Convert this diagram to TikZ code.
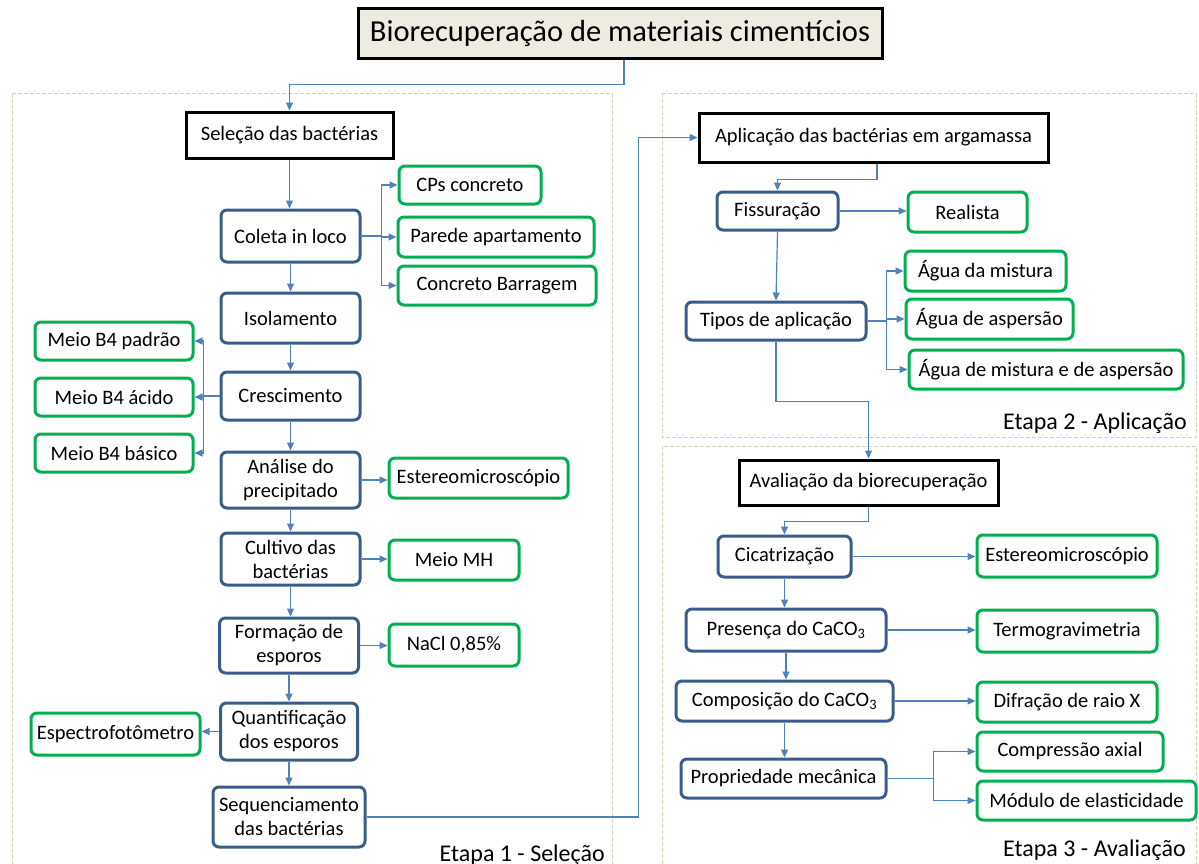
\documentclass[tikz,border=0pt]{standalone}
\usepackage{fontspec}
\setmainfont{Carlito}
\usetikzlibrary{arrows.meta,calc}
\definecolor{stepblue}{RGB}{56,93,138}
\definecolor{leafgreen}{RGB}{0,176,80}
\definecolor{linkblue}{RGB}{79,129,189}
\definecolor{titlefill}{RGB}{238,236,225}
\definecolor{framegray}{RGB}{214,211,184}
\tikzset{
  titlebox/.style={
    draw = black,
    line width = 3pt,
    fill = titlefill,
    inner sep = 0pt,
    font = \fontsize{30.5}{34}\selectfont
  },
  stagebox/.style={
    draw = black,
    line width = 3pt,
    fill = white,
    inner sep = 0pt
  },
  stepbox/.style={
    draw = stepblue,
    line width = 3pt,
    rounded corners = 6pt,
    inner sep = 0pt,
    align = center
  },
  leafbox/.style={
    draw = leafgreen,
    line width = 3pt,
    rounded corners = 6pt,
    inner sep = 0pt
  },
  link/.style={
    draw = linkblue,
    line width = 1.2pt,
    -{Triangle[length=8pt,width=7pt]}
  },
  frame/.style={
    draw = framegray,
    line width = 0.8pt,
    dash pattern = on 4pt off 2pt
  },
  stagelabel/.style={
    anchor = base east,
    inner sep = 0pt,
    font = \fontsize{24}{28}\selectfont
  },
  every picture/.style = {
    x = 1pt,
    y = -1pt,
    font = \fontsize{20.5}{24}\selectfont
  }
}

\begin{document}
\begin{tikzpicture}
    \useasboundingbox (0,0) rectangle (1199,863);
    \draw[frame] (12,93) rectangle (612,875);
    \draw[frame] (662,93) rectangle (1196,437);
    \draw[frame] (662,446) rectangle (1196,875);
    \node[stagelabel] (etapa1) at (605,861) {Etapa 1 - Seleção};
    \node[stagelabel] (etapa2) at (1187,429) {Etapa 2 - Aplicação};
    \node[stagelabel] (etapa3) at (1186,856) {Etapa 3 - Avaliação};

    \node[titlebox, minimum width=524, minimum height=50] (title) at (620,33) {Biorecuperação de materiais cimentícios};

    % etapa 1
    \node[stagebox, minimum width=207, minimum height=46] (sel) at (289.5,135) {Seleção das bactérias};
    \node[stepbox, minimum width=139, minimum height=52] (coleta) at (290.5,236) {Coleta in loco};
    \node[leafbox, minimum width=142, minimum height=38] (cps) at (470,185) {CPs concreto};
    \node[leafbox, minimum width=196, minimum height=40] (parede) at (496,237) {Parede apartamento};
    \node[leafbox, minimum width=198, minimum height=39] (barragem) at (497,285.5) {Concreto Barragem};
    \node[stepbox, minimum width=139, minimum height=50] (isol) at (290.5,318) {Isolamento};
    \node[leafbox, minimum width=158, minimum height=38] (padrao) at (114,341) {Meio B4 padrão};
    \node[leafbox, minimum width=158, minimum height=38] (acido) at (114,397) {Meio B4 ácido};
    \node[leafbox, minimum width=158, minimum height=38] (basico) at (114,453) {Meio B4 básico};
    \node[stepbox, minimum width=139, minimum height=48] (cresc) at (290.5,396) {Crescimento};
    \node[stepbox, minimum width=139, minimum height=56] (analise) at (290.5,480) {Análise do\\precipitado};
    \node[leafbox, minimum width=179, minimum height=40] (estereoA) at (478.5,478) {Estereomicroscópio};
    \node[stepbox, minimum width=139, minimum height=52] (cultivo) at (290.5,559) {Cultivo das\\bactérias};
    \node[leafbox, minimum width=130, minimum height=40] (mh) at (454,560) {Meio MH};
    \node[stepbox, minimum width=139, minimum height=55] (formacao) at (289,645.5) {Formação de\\esporos};
    \node[leafbox, minimum width=130, minimum height=42] (nacl) at (454,645) {NaCl 0,85\%};
    \node[stepbox, minimum width=137, minimum height=57] (quant) at (289,731.5) {Quantificação\\dos esporos};
    \node[leafbox, minimum width=169, minimum height=42] (espectro) at (115.5,734) {Espectrofotômetro};
    \node[stepbox, minimum width=152, minimum height=60] (seq) at (289,817) {Sequenciamento\\das bactérias};

    % etapa 2
    \node[stagebox, minimum width=349, minimum height=49] (aplic) at (873.5,137.5) {Aplicação das bactérias em argamassa};
    \node[stepbox, minimum width=121, minimum height=38] (fiss) at (777.5,211) {Fissuração};
    \node[leafbox, minimum width=119, minimum height=40] (realista) at (967.5,212) {Realista};
    \node[stepbox, minimum width=180, minimum height=38] (tipos) at (776,321) {Tipos de aplicação};
    \node[leafbox, minimum width=161, minimum height=40] (mistura) at (985.5,271) {Água da mistura};
    \node[leafbox, minimum width=167, minimum height=40] (aspersao) at (989.5,319) {Água de aspersão};
    \node[leafbox, minimum width=274, minimum height=39] (ambas) at (1046,369.5) {Água de mistura e de aspersão};

    % etapa 3
    \node[stagebox, minimum width=259, minimum height=45] (aval) at (868.5,482.5) {Avaliação da biorecuperação};
    \node[stepbox, minimum width=133, minimum height=41] (cicat) at (784.5,556.5) {Cicatrização};
    \node[leafbox, minimum width=180, minimum height=42] (estereoB) at (1067,556) {Estereomicroscópio};
    \node[stepbox, minimum width=200, minimum height=42] (presenca) at (786,630) {Presença do CaCO\textsubscript{3}};
    \node[leafbox, minimum width=180, minimum height=42] (termo) at (1067,631) {Termogravimetria};
    \node[stepbox, minimum width=217, minimum height=40] (compos) at (784.5,701) {Composição do CaCO\textsubscript{3}};
    \node[leafbox, minimum width=180, minimum height=40] (difr) at (1067,702) {Difração de raio X};
    \node[stepbox, minimum width=205, minimum height=39] (prop) at (783.5,778.5) {Propriedade mecânica};
    \node[leafbox, minimum width=186, minimum height=39] (compr) at (1070,751.5) {Compressão axial};
    \node[leafbox, minimum width=219, minimum height=39] (modulo) at (1086.5,800.5) {Módulo de elasticidade};

    % connectors
    \draw[link] ($(title.south)+(4,0)$) -- ++(0,25) -| (sel.north);
    \foreach \a/\b in {sel/coleta,coleta/isol,isol/cresc,cresc/analise,analise/cultivo,cultivo/formacao,formacao/quant,quant/seq,cicat/presenca,presenca/compos,compos/prop}{
        \draw[link] (\a.south) -- (\a.south |- \b.north);
    }
    \foreach \t in {cps,parede,barragem}{
        \draw[link] (coleta.east) -- ++(20,0) |- (\t.west);
    }
    \foreach \t in {padrao,acido,basico}{
        \draw[link] (cresc.west) -- ++(-16,0) |- (\t.east);
    }
    \foreach \a/\b in {analise/estereoA,cultivo/mh,formacao/nacl,fiss/realista,cicat/estereoB,presenca/termo,compos/difr}{
        \draw[link] (\a.east) -- (\a.east -| \b.west);
    }
    \draw[link] (quant.west) -- (quant.west -| espectro.east);
    \draw[link] (seq.east) -- ($(seq.east -| aplic.west)+(-59,0)$) |- (aplic.west);
    \draw[link] ($(aplic.south)+(3.5,0)$) -- ++(0,16) -| (fiss.north);
    \draw[link] (fiss.south) -- (tipos.north);
    \foreach \t in {mistura,aspersao,ambas}{
        \draw[link] (tipos.east) -- ++(19,0) |- (\t.west);
    }
    \draw[link] (tipos.south) -- ++(0,60) -| (aval.north);
    \draw[link] (aval.south) -- ++(0,15) -| (cicat.north);
    \foreach \t in {compr,modulo}{
        \draw[link] (prop.east) -- ++(46,0) |- (\t.west);
    }
\end{tikzpicture}
\end{document}
